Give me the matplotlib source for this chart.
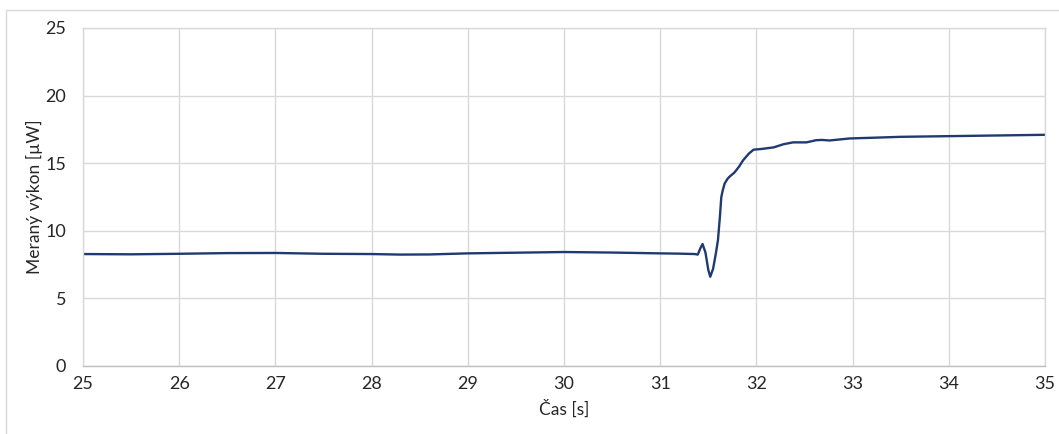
import matplotlib.pyplot as plt
from matplotlib.patches import Rectangle

cas = [25.0, 25.5, 26.0, 26.5, 27.0, 27.5, 28.0, 28.3, 28.6, 29.0, 29.5, 30.0, 30.5,
       31.0, 31.2, 31.36, 31.39, 31.42, 31.44, 31.47, 31.50, 31.52, 31.55, 31.58, 31.60,
       31.62, 31.635, 31.65, 31.67, 31.70, 31.72, 31.77, 31.82, 31.86, 31.92, 31.97,
       32.05, 32.18, 32.28, 32.38, 32.52, 32.62, 32.68, 32.76, 32.97, 33.2, 33.5,
       34.0, 34.5, 35.0]
vykon = [8.28, 8.26, 8.3, 8.35, 8.36, 8.3, 8.28, 8.24, 8.25, 8.33, 8.38, 8.43, 8.39,
         8.33, 8.31, 8.28, 8.24, 8.75, 9.02, 8.4, 7.1, 6.6, 7.2, 8.4, 9.3,
         11.0, 12.5, 13.0, 13.5, 13.85, 14.0, 14.3, 14.75, 15.2, 15.7, 16.0,
         16.05, 16.17, 16.4, 16.54, 16.54, 16.7, 16.72, 16.68, 16.83, 16.88, 16.95,
         17.0, 17.05, 17.1]

plt.rcParams['font.family'] = ['Lato', 'DejaVu Sans']

fig = plt.figure(figsize=(10.59, 4.34), dpi=100)
ax = fig.add_axes([0.0784, 0.1567, 0.9084, 0.7788])

# chart area border
fig.patches.append(Rectangle((6 / 1059, -0.05), 1.1, (434 - 10) / 434 + 0.05,
                             transform=fig.transFigure, fill=False,
                             edgecolor='#D9D9D9', linewidth=1))

ax.plot(cas, vykon, color='#1F3A70', linewidth=1.7, solid_joinstyle='round')

ax.set_xlim(25, 35)
ax.set_ylim(0, 25)
ax.set_xticks(range(25, 36))
ax.set_yticks(range(0, 26, 5))
ax.grid(True, color='#D9D9D9', linewidth=1)
ax.set_axisbelow(True)
for name, sp in ax.spines.items():
    sp.set_color('#D9D9D9')
    sp.set_linewidth(1)
ax.spines['bottom'].set_color('#BFBFBF')
ax.tick_params(length=0, labelsize=13, colors='#262626')
ax.tick_params(axis='y', pad=12)
ax.tick_params(axis='x', pad=7)

ax.set_xlabel('Čas [s]', fontsize=12.5, color='#262626', labelpad=6)
ax.set_ylabel('Meraný výkon [µW]', fontsize=12.5, color='#262626', labelpad=2)

fig.savefig('out.png', dpi=100)
